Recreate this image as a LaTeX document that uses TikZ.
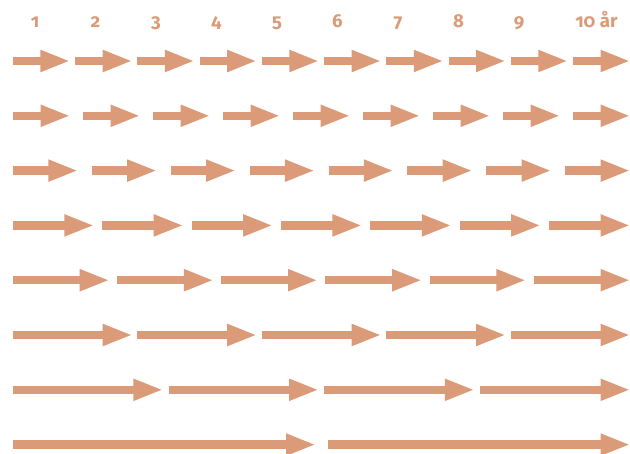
\documentclass[tikz,border=0pt]{standalone}
\usepackage{fontspec}
\setmainfont{Fira Sans}[Numbers=OldStyle]
\usepackage{tikz}
\usetikzlibrary{arrows.meta}
\definecolor{YearSalmon}{HTML}{DB9A78}

\tikzset{
  yeararrow/.style={draw=YearSalmon,line width=6.2pt,
    -{Triangle[length=22.5pt,width=15pt]}},
  yearlabel/.style={anchor=base,text=YearSalmon,
    font=\fontsize{14}{16}\selectfont\bfseries,inner sep=0pt}
}

\begin{document}
\begin{tikzpicture}[x=0.75pt,y=-0.75pt]
    \useasboundingbox (0,0) rectangle (630,453);
    \def\xstart{13}
    \def\xend{630.5}

    % Year labels along the top.
    \foreach \yr in {1,...,9}
      \node[yearlabel] (year\yr) at ({35+60.5*(\yr-1)},27.5) {\yr};
    \node[yearlabel,anchor=base west] (year10) at (575,27.5) {10 år};

    % One row per period length: number of arrows / arrow length.
    \foreach \n/\len [count=\r] in {10/57.4,9/57.5,8/65.3,7/81.3,
        6/96.7,5/119.7,4/150.3,2/303} {
      \pgfmathsetmacro\pitch{(\xend-\xstart-\len)/(\n-1)}
      \pgfmathsetmacro\rowy{61+54.8*(\r-1)}
      \foreach \k in {1,...,\n} {
        \pgfmathsetmacro\xa{\xstart+\pitch*(\k-1)}
        \draw[yeararrow] (\xa,\rowy) -- ++(\len,0);
      }
    }
  \end{tikzpicture}
\end{document}
